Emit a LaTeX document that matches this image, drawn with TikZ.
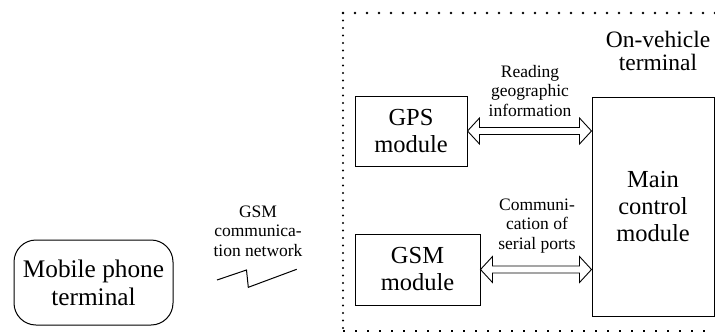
\documentclass[tikz,border=0pt]{standalone}
\usepackage{fontspec}
\newfontfamily\diagfont{Liberation Serif}
\usetikzlibrary{calc}

\tikzset{
  every node/.style={font=\diagfont},
  bigtext/.style={font=\diagfont\fontsize{24.5}{27}\selectfont, align=center},
  smalltext/.style={font=\diagfont\fontsize{17.5}{19.5}\selectfont, align=center},
  modbox/.style={draw, line width=1pt, bigtext, inner sep=0pt},
  hollow/.style={draw, line width=0.9pt, fill=white, line join=miter},
  edge/.style={line width=1pt},
}

% hollow two-headed arrow between two points on the same level
\newcommand{\twowayarrow}[2]{%
  \path[hollow] let \p1=(#1), \p2=(#2) in
    (\x1,\y1) -- (\x1+12pt,\y1+13pt) -- (\x1+12pt,\y1+3.5pt)
    -- (\x2-12pt,\y1+3.5pt) -- (\x2-12pt,\y1+13pt) -- (\x2,\y1)
    -- (\x2-12pt,\y1-13pt) -- (\x2-12pt,\y1-3.5pt)
    -- (\x1+12pt,\y1-3.5pt) -- (\x1+12pt,\y1-13pt) -- cycle;}

\begin{document}
\begin{tikzpicture}[x=1pt, y=-1pt]
  \useasboundingbox (0,0) rectangle (715,333);

  % vehicle terminal boundary
  \coordinate (tl) at (343,13);
  \coordinate (tr) at (715,13);
  \coordinate (bl) at (343,331);
  \coordinate (br) at (715,331);
  \draw[line width=2.8pt, line cap=round, dash pattern=on 0pt off 12pt] (tl) -- (tr);
  \draw[line width=2.3pt, line cap=round, dash pattern=on 0pt off 7.5pt] (tl) -- (bl);
  \draw[line width=1.4pt, dash pattern=on 1.6pt off 10.4pt] (bl) -- (br);

  % modules
  \node[modbox, minimum width=112pt, minimum height=70pt] (gps) at (411,131) {GPS\\module};
  \node[modbox, minimum width=125pt, minimum height=71pt] (gsm) at (417.5,269.5) {GSM\\module};
  \node[modbox, minimum width=122pt, minimum height=219pt] (main) at (653,206.5) {Main\\control\\module};
  \node[modbox, font=\diagfont\fontsize{25.3}{28}\selectfont, rounded corners=22pt,
        minimum width=159pt, minimum height=85pt] (mobile) at (93.5,282.5) {Mobile phone\\terminal};

  % labels
  \node[font=\diagfont\fontsize{23.5}{22.5}\selectfont, align=center] (veh) at (658,51) {On-vehicle\\terminal};
  \node[smalltext] (readlbl) at (530,91) {Reading\\geographic\\information};
  \node[smalltext] (seriallbl) at (537,226) {Communi-\\cation of\\serial ports};
  \node[smalltext] (netlbl) at (258,231) {GSM\\communica-\\tion network};

  % data links
  \twowayarrow{gps.east}{gps.east -| main.west}
  \twowayarrow{gsm.east}{gsm.east -| main.west}

  % wireless link
  \coordinate (z1) at (217,280);
  \coordinate (z2) at (246.5,270);
  \coordinate (z3) at (248.3,287.3);
  \coordinate (z4) at (296.7,269.3);
  \draw[edge, line join=miter] (z1) -- (z2) -- (z3) -- (z4);
\end{tikzpicture}
\end{document}
